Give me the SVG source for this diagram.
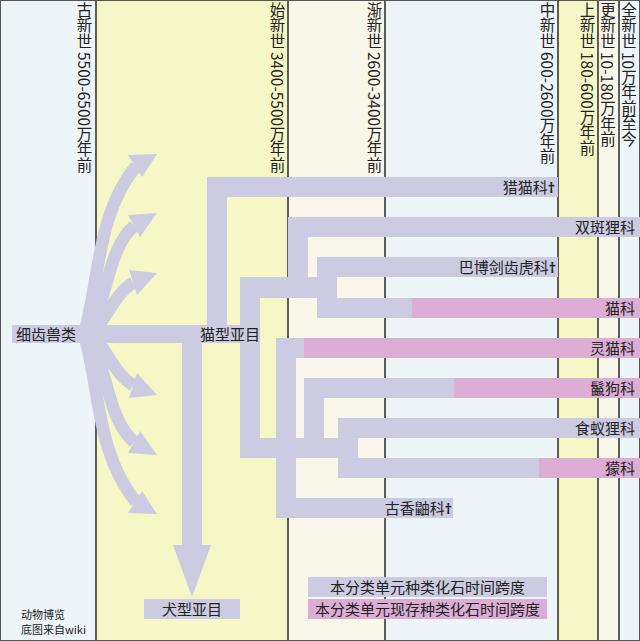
<svg xmlns="http://www.w3.org/2000/svg" width="640" height="641" viewBox="0 0 640 641">
<style>
.era{font-family:"Noto Sans CJK SC","Noto Sans",sans-serif;font-size:15.5px;fill:#222;writing-mode:vertical-rl;}
.lbl{font-family:"Noto Sans CJK SC","Noto Sans",sans-serif;font-size:15px;fill:#222;}
.dg{font-family:"Noto Sans","DejaVu Sans",sans-serif;font-weight:bold;font-size:14px;}
.end{text-anchor:end;}
.mid{text-anchor:middle;}
.bar{fill:#cccbe1;}
.pk{fill:#dcaed6;}
.vl{stroke:#2a2a2a;stroke-width:1.5;}
.shaft{fill:none;stroke:#cccbe1;stroke-width:12.5;}
.credit{font-family:"Noto Sans CJK SC","Noto Sans",sans-serif;font-size:11px;fill:#222;}
</style>
<g id="background">
<rect x="0" y="0" width="96" height="641" fill="#eef5f8"/>
<rect x="96" y="0" width="192" height="641" fill="#f5f8c6"/>
<rect x="288" y="0" width="97" height="641" fill="#f8f7ea"/>
<rect x="385" y="0" width="173" height="641" fill="#eef5f8"/>
<rect x="558" y="0" width="40" height="641" fill="#f5f8c6"/>
<rect x="598" y="0" width="21" height="641" fill="#f8f7ea"/>
<rect x="619" y="0" width="21" height="641" fill="#eef5f8"/>
<line class="vl" x1="96" y1="0" x2="96" y2="641"/>
<line class="vl" x1="288" y1="0" x2="288" y2="641"/>
<line class="vl" x1="385" y1="0" x2="385" y2="641"/>
<line class="vl" x1="558" y1="0" x2="558" y2="641"/>
<line class="vl" x1="598" y1="0" x2="598" y2="641"/>
<line class="vl" x1="619" y1="0" x2="619" y2="641"/>
<rect x="0.5" y="0.5" width="639" height="640" fill="none" stroke="#555" stroke-width="1"/>
</g>
<g id="eras">
<text class="era" x="84.5" y="2">古新世 5500-6500万年前</text>
<text class="era" x="277.5" y="2">始新世 3400-5500万年前</text>
<text class="era" x="374.5" y="2">渐新世 2600-3400万年前</text>
<text class="era" x="547.5" y="2">中新世 600-2600万年前</text>
<text class="era" x="587.5" y="2">上新世 180-600万年前</text>
<text class="era" x="608" y="2">更新世 10-180万年前</text>
<text class="era" x="629" y="2">全新世 10万年前至今</text>
</g>
<g id="connectors">
<path class="shaft" d="M84 334C100 280 96 215 136 166"/>
<polygon class="bar" points="128,155 157,154 142,177"/>
<path class="shaft" d="M86 334C108 305 106 250 134 226"/>
<polygon class="bar" points="128,215 157,213 140,237"/>
<path class="shaft" d="M88 334C106 325 112 295 133 283"/>
<polygon class="bar" points="129,270 157,273 137,295"/>
<path class="shaft" d="M88 334C106 343 112 373 133 385"/>
<polygon class="bar" points="129,398 157,395 137,373"/>
<path class="shaft" d="M86 334C108 363 106 418 134 442"/>
<polygon class="bar" points="128,453 157,455 140,431"/>
<path class="shaft" d="M84 334C100 388 96 453 136 502"/>
<polygon class="bar" points="128,513 157,514 142,491"/>
<rect class="bar" x="182" y="343" width="20" height="203"/>
<polygon class="bar" points="173,545 211,545 192,597"/>
<rect class="bar" x="207" y="177" width="20" height="166"/>
<rect class="bar" x="288" y="217" width="20" height="80"/>
<rect class="bar" x="317" y="257" width="20" height="60"/>
<rect class="bar" x="240" y="277" width="97" height="21"/>
<rect class="bar" x="240" y="277" width="20" height="181"/>
<rect class="bar" x="276" y="338" width="20" height="180"/>
<rect class="bar" x="304" y="378" width="20" height="60"/>
<rect class="bar" x="338" y="418" width="20" height="60"/>
<rect class="bar" x="240" y="438" width="118" height="20"/>
</g>
<g id="node-xichishoulei">
<rect class="bar" x="12" y="325" width="248" height="18"/>
<text class="lbl" x="16" y="340">细齿兽类</text>
</g>
<g id="node-maoxingyamu">
<text class="lbl" x="200" y="340">猫型亚目</text>
</g>
<g id="node-quanxingyamu">
<rect class="bar" x="144" y="599" width="96" height="20"/>
<text class="lbl mid" x="192" y="615">犬型亚目</text>
</g>
<g id="node-liemaoke">
<rect class="bar" x="207" y="177" width="351" height="20"/>
<text class="lbl end" x="555" y="193">猎猫科<tspan class="dg">†</tspan></text>
</g>
<g id="node-shuangbanlike">
<rect class="bar" x="288" y="217" width="352" height="20"/>
<text class="lbl end" x="635" y="233">双斑狸科</text>
</g>
<g id="node-babojianchihuke">
<rect class="bar" x="317" y="257" width="241" height="20"/>
<text class="lbl end" x="556" y="273">巴博剑齿虎科<tspan class="dg">†</tspan></text>
</g>
<g id="node-maoke">
<rect class="bar" x="317" y="298" width="323" height="20"/>
<rect class="pk" x="412" y="298" width="228" height="20"/>
<text class="lbl end" x="635" y="314">猫科</text>
</g>
<g id="node-lingmaoke">
<rect class="bar" x="276" y="338" width="364" height="20"/>
<rect class="pk" x="304" y="338" width="336" height="20"/>
<text class="lbl end" x="635" y="354">灵猫科</text>
</g>
<g id="node-liegouke">
<rect class="bar" x="304" y="378" width="336" height="20"/>
<rect class="pk" x="454" y="378" width="186" height="20"/>
<text class="lbl end" x="635" y="394">鬣狗科</text>
</g>
<g id="node-shiyilike">
<rect class="bar" x="338" y="418" width="302" height="20"/>
<text class="lbl end" x="635" y="434">食蚁狸科</text>
</g>
<g id="node-mengke">
<rect class="bar" x="338" y="458" width="302" height="20"/>
<rect class="pk" x="539" y="458" width="101" height="20"/>
<text class="lbl end" x="635" y="474">獴科</text>
</g>
<g id="node-guxiangyouke">
<rect class="bar" x="276" y="498" width="177" height="20"/>
<text class="lbl end" x="452" y="514">古香鼬科<tspan class="dg">†</tspan></text>
</g>
<g id="legend">
<rect class="bar" x="308" y="577" width="239" height="20"/>
<text class="lbl mid" x="427.5" y="593">本分类单元种类化石时间跨度</text>
<rect class="pk" x="308" y="599" width="239" height="20"/>
<text class="lbl mid" x="427.5" y="615">本分类单元现存种类化石时间跨度</text>
</g>
<g id="credit">
<text class="credit" x="21" y="619">动物博览</text>
<text class="credit" x="21" y="634">底图来自wiki</text>
</g>
</svg>
